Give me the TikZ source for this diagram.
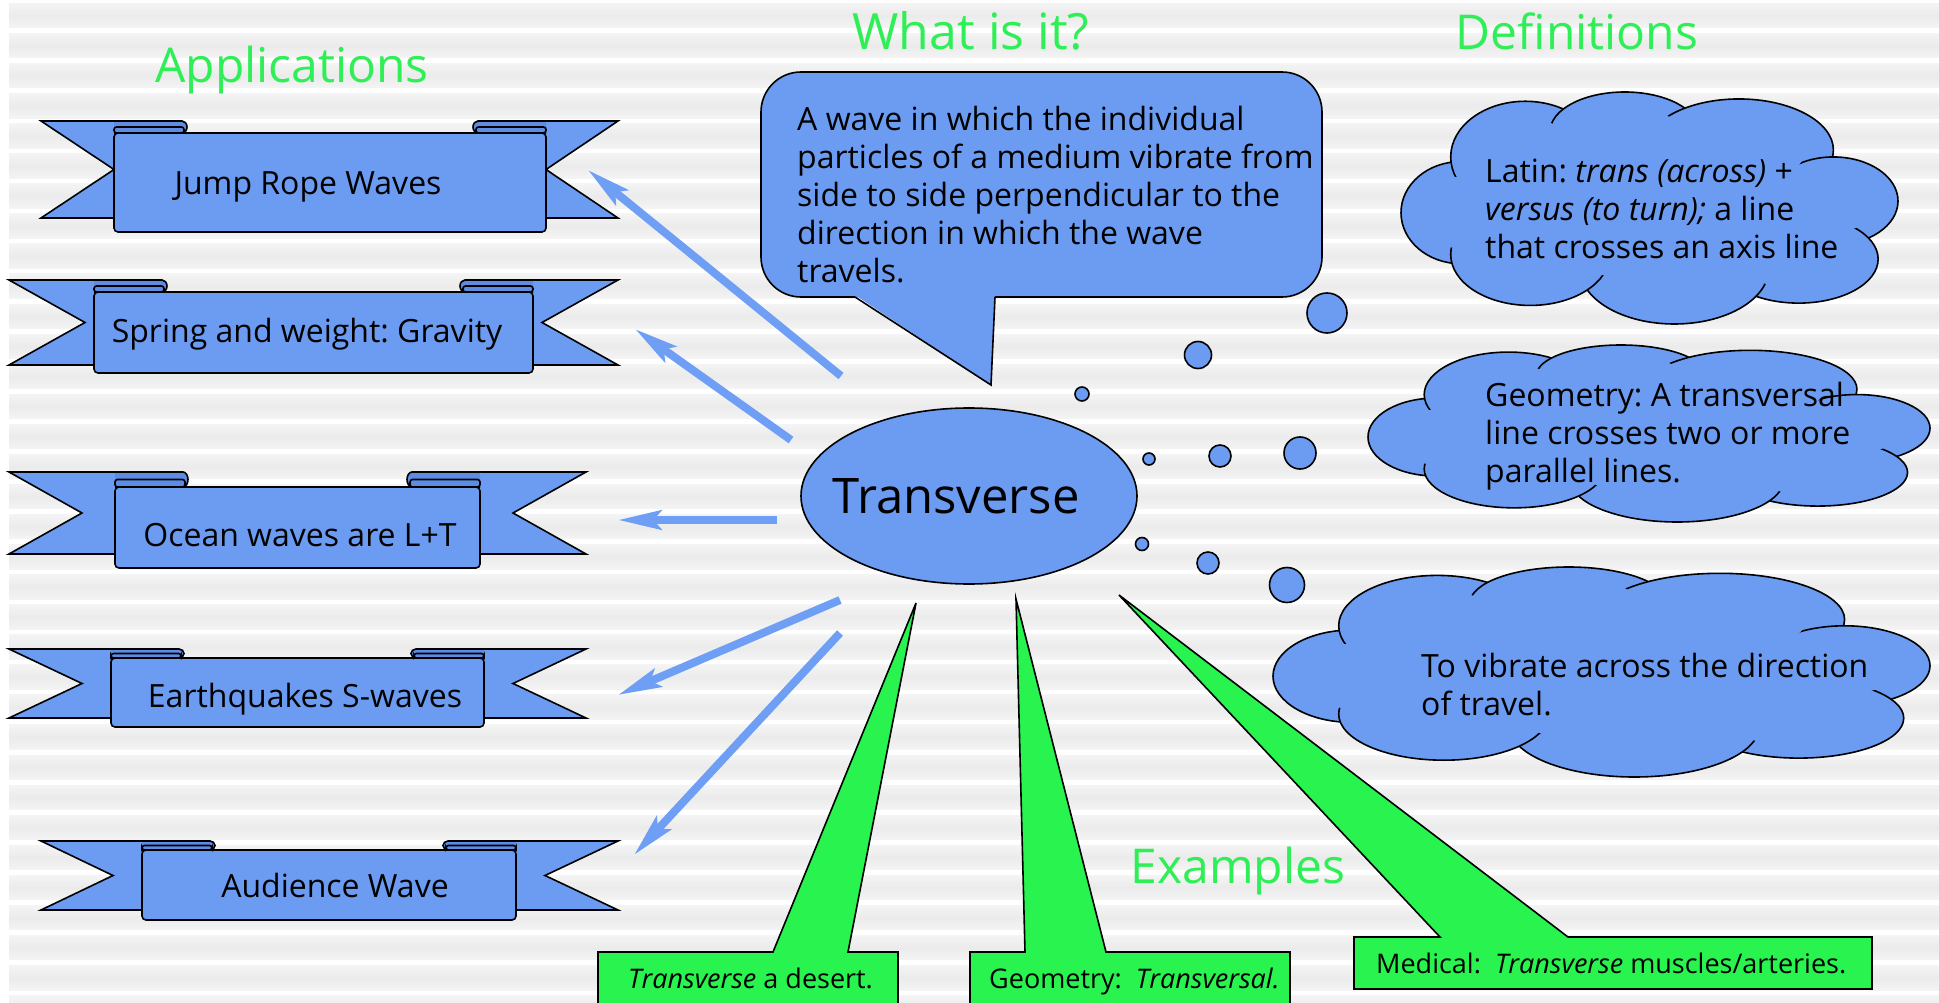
\documentclass[tikz,border=0pt]{standalone}
\usepackage{fontspec}
\setmainfont{Open Sans}
\frenchspacing
\usetikzlibrary{arrows.meta}
\definecolor{bluec}{HTML}{6B9CF1}
\definecolor{bluedark}{HTML}{5D8CE2}
\definecolor{arrowc}{HTML}{6E9FF5}
\definecolor{greenc}{HTML}{28F34F}
\definecolor{titlec}{HTML}{2EEF55}
\definecolor{stripec}{HTML}{EBEBEB}
\definecolor{stripelt}{HTML}{F4F4F4}

% lobes of a cloud: centre u/v and radii, all relative to the box
\def\lobes{0.12/0.52/0.12/0.22, 0.25/0.28/0.15/0.24,
      0.45/0.17/0.15/0.17, 0.68/0.25/0.19/0.22, 0.87/0.47/0.13/0.19,
      0.80/0.72/0.16/0.19, 0.55/0.76/0.19/0.24, 0.26/0.70/0.16/0.22}
% cloud: top-left x, top-left y, width, height
\newcommand{\thought}[4]{%
  \foreach \cu/\cv/\ca/\cb in \lobes
    {\filldraw[bubble] ({#1+\cu*#3},{#2+\cv*#4}) ellipse[x radius={\ca*#3}, y radius={\cb*#4}];}
  \foreach \cu/\cv/\ca/\cb in \lobes
    {\fill[bluec] ({#1+\cu*#3},{#2+\cv*#4}) ellipse[x radius={0.7*\ca*#3}, y radius={0.7*\cb*#4}];}
  \fill[bluec] ({#1+0.5*#3},{#2+0.5*#4}) ellipse[x radius={0.36*#3}, y radius={0.3*#4}];
}

\begin{document}
\begin{tikzpicture}[x=1pt, y=-1pt,
  outline/.style={draw=black, line width=1.6pt},
  bubble/.style={outline, fill=bluec},
  ribbon/.style={outline, fill=bluec},
  roll/.style={outline, fill=bluedark},
  example/.style={outline, fill=greenc},
  pointer/.style={draw=arrowc, line width=8pt, -{Stealth[length=43pt, width=19pt, inset=8pt]}},
  heading/.style={text=titlec, anchor=base, inner sep=0pt, font=\fontsize{48}{58}\selectfont},
  ribtext/.style={anchor=base, inner sep=0pt, font=\fontsize{32}{38}\selectfont},
  bodytext/.style={anchor=north west, align=left, inner sep=0pt, font=\fontsize{32}{38}\selectfont},
  exampletext/.style={anchor=base west, inner sep=0pt, font=\fontsize{27}{30}\selectfont}]

  \useasboundingbox (0,0) rectangle (1939,1003);
  \clip (0,0) rectangle (1939,1003);
  \fill[white] (0,0) rectangle (1939,1003);
  % striped background
  \foreach \k in {0,...,33}
    \shade[top color=stripelt, bottom color=stripelt, middle color=stripec]
      (9,{3.3+30.07*\k}) rectangle (1939,{27.8+30.07*\k});

  % headings
  \node[heading] (apps) at (292,83) {Applications};
  \node[heading, font=\fontsize{50}{58}\selectfont] (whatis) at (971,50) {What is it?};
  \node[heading] (defs) at (1577,50) {Definitions};
  \node[heading] (examples) at (1238,883) {Examples};

  % banners on the left
  \foreach \xl/\xr/\yt/\yb/\pl/\pr/\pt/\pb/\dn/\tx/\ty/\nm/\txt in {
      41/618/121/218/114/546/133/232/0/308/195/jump/Jump Rope Waves,
      9/618/280/365/94/533/292/373/9/307/342/spring/Spring and weight: Gravity,
      9/586/472/554/115/480/487/568/33/300/546/ocean/Ocean waves are L+T,
      9/586/649/718/111/484/658/727/29/305/707/quake/Earthquakes S-waves,
      41/618/841/910/142/516/850/920/29/335/897/crowd/Audience Wave}{
    \pgfmathsetmacro\ym{(\yt+\yb)/2}
    \pgfmathsetmacro\hr{(\pt-\yt)/2}
    \filldraw[ribbon] (\xl,\yt) -- (\pl+20,\yt) -- (\pl+20,\yb) -- (\xl,\yb) -- (\pl-\dn,\ym) -- cycle;
    \filldraw[ribbon] (\xr,\yt) -- (\pr-20,\yt) -- (\pr-20,\yb) -- (\xr,\yb) -- (\pr+\dn,\ym) -- cycle;
    \filldraw[roll] (\pl,\yt) -- (\pl+68,\yt) arc[start angle=-90, end angle=90, x radius=5, y radius=\hr] -- (\pl,\pt);
    \filldraw[roll] (\pr,\yt) -- (\pr-68,\yt) arc[start angle=-90, end angle=-270, x radius=5, y radius=\hr] -- (\pr,\pt);
    \filldraw[ribbon, rounded corners=4] (\pl,\pt) rectangle (\pr,\pb);
    \filldraw[roll, rounded corners=2.5] (\pl,\pt-\hr) rectangle (\pl+70,\pt);
    \filldraw[roll, rounded corners=2.5] (\pr-70,\pt-\hr) rectangle (\pr,\pt);
    \node[ribtext] (\nm) at (\tx,\ty) {\txt};
  }

  % centre
  \filldraw[bubble] (969,496) ellipse[x radius=168, y radius=88];
  \node[anchor=base, inner sep=0pt, font=\fontsize{49}{58}\selectfont] (core) at (956,513) {Transverse};

  % arrows to the applications
  \coordinate (a1s) at (841,376); \coordinate (a1e) at (588,170);
  \coordinate (a2s) at (791,440); \coordinate (a2e) at (635,329);
  \coordinate (a3s) at (777,520); \coordinate (a3e) at (618,520);
  \coordinate (a4s) at (840,600); \coordinate (a4e) at (618,695);
  \coordinate (a5s) at (840,633); \coordinate (a5e) at (634,855);
  \foreach \i in {1,...,5}
    \draw[pointer] (a\i s) -- (a\i e);

  % speech bubble
  \fill[bluec, rounded corners=40] (761,72) rectangle (1322,297);
  \fill[bluec] (855,295) -- (991,385) -- (995,295) -- cycle;
  \draw[outline, rounded corners=40] (855,297) -- (761,297) -- (761,72) -- (1322,72) -- (1322,297) -- (995,297);
  \draw[outline] (855,297) -- (991,385) -- (995,297);
  \node[bodytext] (what) at (797,106)
    {A wave in which the individual\\particles of a medium vibrate from\\side to side perpendicular to the\\direction in which the wave\\travels.};

  % clouds
  \thought{1401}{92}{497}{232}
  \thought{1368}{345}{562}{177}
  \thought{1273}{567}{657}{210}
  \node[bodytext] (latin) at (1485,159)
    {Latin: \textit{trans (across)} +\\\textit{versus (to turn);} a line\\that crosses an axis line};
  \node[bodytext] (geometry) at (1485,382)
    {Geometry: A transversal\\line crosses two or more\\parallel lines.};
  \node[bodytext] (vibrate) at (1421,653)
    {To vibrate across the direction\\of travel.};

  % thought dots
  \foreach \cx/\cy/\r in {1082/394/7, 1198/355/13.5, 1327/313/20,
      1149/459/6, 1220/456/11, 1300/453/16,
      1142/544/6.5, 1208/563/11, 1287/585/17.5}
    \filldraw[bubble] (\cx,\cy) circle[radius=\r];

  % examples
  \filldraw[example] (598,1010) -- (598,952) -- (773,952) -- (916,603) -- (848,952) -- (898,952) -- (898,1010) -- cycle;
  \filldraw[example] (970,1010) -- (970,952) -- (1025,952) -- (1016,599) -- (1106,952) -- (1290,952) -- (1290,1010) -- cycle;
  \filldraw[example] (1354,989) -- (1354,937) -- (1440,937) -- (1119,595) -- (1568,937) -- (1872,937) -- (1872,989) -- cycle;
  \node[exampletext] (desert) at (628,988) {\textit{Transverse} a desert.};
  \node[exampletext] (geom) at (989,988) {Geometry:~ \textit{Transversal.}};
  \node[exampletext] (medical) at (1376,973) {Medical:~ \textit{Transverse} muscles/arteries.};
\end{tikzpicture}
\end{document}
